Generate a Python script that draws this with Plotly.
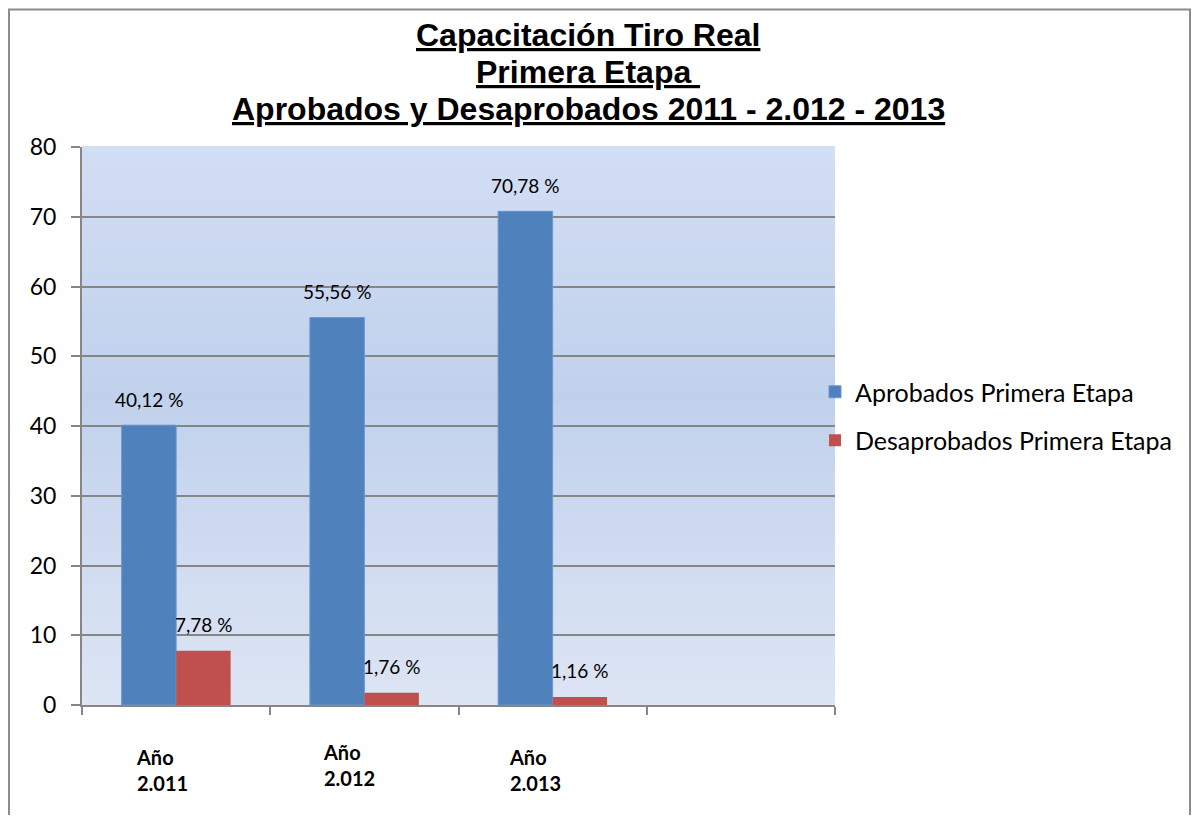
import plotly.graph_objects as go

# datos
anios = ["2.011", "2.012", "2.013"]
aprobados = [40.12, 55.56, 70.78]
desaprobados = [7.78, 1.76, 1.16]
nombre_aprobados = "Aprobados Primera Etapa"
nombre_desaprobados = "Desaprobados Primera Etapa"
titulo = ["Capacitación Tiro Real", "Primera Etapa ",
          "Aprobados y Desaprobados 2011 - 2.012 - 2013"]
ticks_y = [0, 10, 20, 30, 40, 50, 60, 70, 80]

AZUL = "#4f81bd"
ROJO = "#c0504d"
GRIS = "#868686"

# la pagina tiene 8 px de margen; coordenadas en pixeles de pagina
OFF = 8
W, H = 1200 - 2 * OFF, 823 - 2 * OFF
L, R, T, B = 82, 835, 147, 705
PW, PH = R - L, B - T


def px(x):
    return (x - L) / PW


def py(y):
    return (B - y) / PH


def etiqueta(v):
    return f"{v:.2f} %".replace(".", ",")


fig = go.Figure()

fig.add_trace(go.Bar(
    x=anios, y=aprobados, name=nombre_aprobados,
    marker=dict(color=AZUL, line=dict(color="#6d97cd", width=1)),
    legendgroup="a", hoverinfo="skip"
))
fig.add_trace(go.Bar(
    x=anios, y=desaprobados, name=nombre_desaprobados,
    marker=dict(color=ROJO, line=dict(width=0)),
    legendgroup="d", hoverinfo="skip"
))

# fondo degradado
def mezcla(c1, c2, t):
    a = [int(c1[i:i + 2], 16) for i in (1, 3, 5)]
    b = [int(c2[i:i + 2], 16) for i in (1, 3, 5)]
    return "rgb(%d,%d,%d)" % tuple(round(a[k] + (b[k] - a[k]) * t) for k in range(3))


paradas = [(0.0, "#d2def4"), (0.45, "#c1d1ec"), (1.0, "#dde5f4")]
n = 80
shapes = []
for i in range(n):
    f = (i + 0.5) / n  # desde arriba
    for j in range(len(paradas) - 1):
        if paradas[j][0] <= f <= paradas[j + 1][0]:
            t = (f - paradas[j][0]) / (paradas[j + 1][0] - paradas[j][0])
            color = mezcla(paradas[j][1], paradas[j + 1][1], t)
    shapes.append(dict(
        type="rect", xref="x domain", yref="y domain",
        x0=0, x1=1, y0=1 - (i + 1) / n, y1=1 - i / n + 0.002,
        fillcolor=color, line=dict(width=0), layer="below"
    ))

# marco exterior
shapes.append(dict(
    type="rect", xref="paper", yref="paper",
    x0=px(9), x1=px(1190), y0=py(860), y1=py(9.5),
    line=dict(color="#8c8c8c", width=2), fillcolor="rgba(0,0,0,0)", layer="above"
))

anotaciones = []
# titulo, una linea por anotacion
for linea, yc in zip(titulo, [35, 72, 109]):
    anotaciones.append(dict(
        x=px(588), y=py(yc), xref="paper", yref="paper", text=f"<u>{linea}</u>",
        showarrow=False, xanchor="center", yanchor="middle",
        font=dict(family="Liberation Sans", size=32, color="black", weight="bold")
    ))

# etiquetas de datos
for serie, desp in ((aprobados, -27), (desaprobados, 27)):
    for i, v in enumerate(serie):
        anotaciones.append(dict(
            x=i, y=v, xref="x", yref="y", text=etiqueta(v),
            showarrow=False, xshift=desp, yshift=26, yanchor="middle",
            font=dict(family="Lato", size=19, color="black")
        ))

# etiquetas de categoria
desp_x = [-42, -43, -46]
desp_y = [-38, -33, -38]
for i, (a, dx, dy) in enumerate(zip(anios, desp_x, desp_y)):
    anotaciones.append(dict(
        x=i, y=0, xref="x", yref="paper", text=f"<b>Año<br>{a}</b>",
        showarrow=False, xanchor="left", yanchor="top", align="left",
        xshift=dx, yshift=dy,
        font=dict(family="Lato", size=20, color="black")
    ))

fig.update_layout(
    width=W, height=H,
    margin=dict(l=L - OFF, r=W + OFF - R, t=T - OFF, b=H + OFF - B),
    paper_bgcolor="white", plot_bgcolor="rgba(0,0,0,0)",
    barmode="group", bargap=0.421, bargroupgap=0,
    legend=dict(
        x=px(815), xanchor="left", y=py(416), yanchor="middle",
        font=dict(family="Lato", size=25, color="black"),
        tracegroupgap=13, bgcolor="rgba(0,0,0,0)", itemclick=False
    ),
    shapes=shapes,
    annotations=anotaciones,
    showlegend=True,
)

fig.update_xaxes(
    type="category", categoryorder="array", categoryarray=anios + [" "],
    range=[-0.5, 3.5], tickson="boundaries", ticks="outside", ticklen=8,
    tickwidth=2, tickcolor=GRIS, showticklabels=False, showgrid=False,
    showline=True, linecolor=GRIS, linewidth=2, zeroline=False
)
fig.update_yaxes(
    range=[0, 80], tickvals=ticks_y, ticks="outside", ticklen=9,
    tickwidth=2, tickcolor=GRIS, showgrid=True, gridcolor=GRIS, gridwidth=2,
    showline=True, linecolor=GRIS, linewidth=2, zeroline=False,
    ticklabelstandoff=10,
    tickfont=dict(family="Lato", size=23, color="black")
)

fig.write_html("out.html")
